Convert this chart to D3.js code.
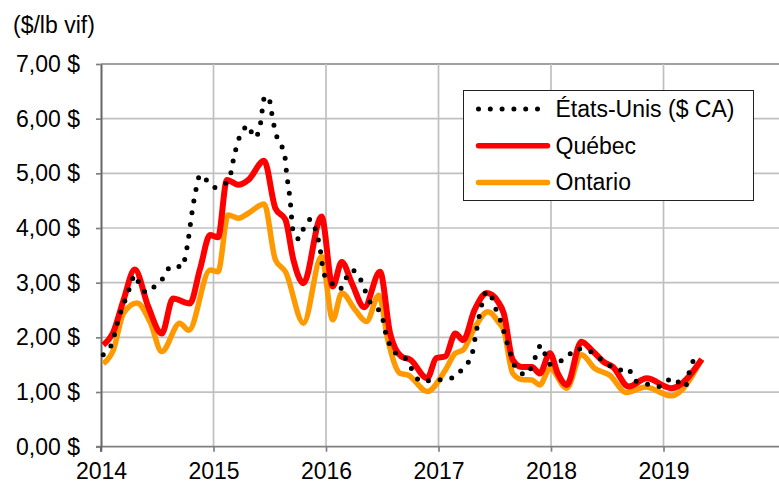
<!DOCTYPE html>
<html>
<head>
<meta charset="utf-8">
<script src="https://cdn.jsdelivr.net/npm/d3@7/dist/d3.min.js"></script>
<style>
  body { margin: 0; background: #fff; }
  svg text { font-family: "Liberation Sans", Arial, sans-serif; fill: #000; }
</style>
</head>
<body>
<div id="chart"></div>
<script>
// valeurs : [année décimale, $/lb vif]
const etatsUnis = [
  [2014.02, 1.68], [2014.04, 1.72], [2014.10, 1.90], [2014.15, 2.30], [2014.22, 2.71],
  [2014.26, 2.93], [2014.30, 3.14], [2014.35, 2.93], [2014.41, 2.82], [2014.48, 2.94],
  [2014.55, 3.08], [2014.60, 3.26], [2014.66, 3.32], [2014.72, 3.28], [2014.75, 3.48],
  [2014.78, 3.85], [2014.81, 4.30], [2014.85, 4.76], [2014.88, 4.97], [2014.93, 4.89],
  [2015.00, 4.74], [2015.09, 4.79], [2015.15, 4.97], [2015.17, 5.18], [2015.22, 5.60],
  [2015.26, 5.79], [2015.32, 5.87], [2015.35, 5.66], [2015.40, 5.74], [2015.42, 5.94],
  [2015.45, 6.37], [2015.49, 6.41], [2015.51, 6.19], [2015.55, 5.76], [2015.58, 5.58],
  [2015.63, 5.38], [2015.65, 5.00], [2015.68, 4.53], [2015.71, 3.91], [2015.76, 3.80],
  [2015.80, 3.99], [2015.86, 4.16], [2015.90, 4.01], [2015.95, 3.59], [2015.98, 3.17],
  [2016.04, 3.02], [2016.12, 2.87], [2016.17, 3.05], [2016.23, 3.23], [2016.30, 3.09],
  [2016.34, 2.90], [2016.38, 2.68], [2016.44, 2.56], [2016.50, 2.38], [2016.52, 2.17],
  [2016.55, 1.95], [2016.60, 1.74], [2016.69, 1.65], [2016.75, 1.47], [2016.79, 1.29],
  [2016.87, 1.19], [2016.94, 1.22], [2017.05, 1.23], [2017.16, 1.29], [2017.22, 1.46],
  [2017.29, 1.63], [2017.33, 2.04], [2017.37, 2.47], [2017.43, 2.84], [2017.49, 2.65],
  [2017.52, 2.45], [2017.56, 2.26], [2017.59, 2.04], [2017.64, 1.70], [2017.69, 1.43],
  [2017.78, 1.32], [2017.87, 1.68], [2017.91, 1.86], [2017.95, 1.68], [2017.99, 1.51],
  [2018.06, 1.55], [2018.15, 1.64], [2018.21, 1.79], [2018.31, 1.78], [2018.41, 1.65],
  [2018.51, 1.50], [2018.61, 1.40], [2018.69, 1.43], [2018.73, 1.23], [2018.80, 1.17],
  [2018.89, 1.13], [2018.97, 1.10], [2019.08, 1.26], [2019.19, 1.09], [2019.24, 1.45],
  [2019.30, 1.69]
];

const quebec = [
  [2014.02, 1.86], [2014.11, 2.10], [2014.20, 2.68], [2014.30, 3.24], [2014.42, 2.56],
  [2014.54, 2.07], [2014.64, 2.71], [2014.79, 2.62], [2014.88, 3.25], [2014.97, 3.87],
  [2015.04, 3.83], [2015.12, 4.88], [2015.22, 4.79], [2015.31, 4.88], [2015.45, 5.23],
  [2015.55, 4.36], [2015.64, 4.15], [2015.71, 3.42], [2015.80, 2.99], [2015.96, 4.21],
  [2016.06, 2.93], [2016.14, 3.38], [2016.23, 2.99], [2016.34, 2.55], [2016.48, 3.20],
  [2016.57, 2.07], [2016.67, 1.65], [2016.75, 1.59], [2016.90, 1.25], [2016.98, 1.62],
  [2017.06, 1.65], [2017.15, 2.07], [2017.22, 1.95], [2017.32, 2.50], [2017.43, 2.81],
  [2017.53, 2.65], [2017.58, 2.44], [2017.66, 1.59], [2017.74, 1.46], [2017.83, 1.46],
  [2017.90, 1.34], [2017.99, 1.71], [2018.06, 1.34], [2018.14, 1.13], [2018.27, 1.92],
  [2018.36, 1.77], [2018.47, 1.55], [2018.55, 1.46], [2018.69, 1.10], [2018.85, 1.25],
  [2019.07, 1.07], [2019.34, 1.60]
];

const ontario = [
  [2014.02, 1.52], [2014.11, 1.77], [2014.20, 2.44], [2014.32, 2.63], [2014.44, 2.26],
  [2014.54, 1.74], [2014.70, 2.26], [2014.78, 2.13], [2014.97, 3.23], [2015.04, 3.20],
  [2015.13, 4.24], [2015.22, 4.18], [2015.31, 4.27], [2015.45, 4.44], [2015.55, 3.42],
  [2015.64, 3.20], [2015.80, 2.26], [2015.96, 3.48], [2016.06, 2.32], [2016.14, 2.81],
  [2016.26, 2.50], [2016.36, 2.29], [2016.47, 2.77], [2016.55, 1.95], [2016.66, 1.34],
  [2016.73, 1.31], [2016.90, 1.01], [2017.06, 1.40], [2017.15, 1.71], [2017.22, 1.77],
  [2017.31, 2.13], [2017.44, 2.47], [2017.53, 2.29], [2017.58, 2.13], [2017.66, 1.34],
  [2017.74, 1.23], [2017.83, 1.22], [2017.90, 1.13], [2017.99, 1.43], [2018.14, 1.07],
  [2018.27, 1.68], [2018.39, 1.43], [2018.52, 1.31], [2018.67, 0.99], [2018.84, 1.09],
  [2019.07, 0.93], [2019.34, 1.60]
];

const yearTicks = [2014, 2015, 2016, 2017, 2018, 2019];
const yTicks = [0, 1, 2, 3, 4, 5, 6, 7];
const yTickLabels = ["0,00 $", "1,00 $", "2,00 $", "3,00 $", "4,00 $", "5,00 $", "6,00 $", "7,00 $"];
const seriesNames = ["États-Unis ($ CA)", "Québec", "Ontario"];
const unitLabel = "($/lb vif)";

var width = 779, height = 485;
var fontSize = 23;

var svg = d3.select("#chart").append("svg")
    .attr("width", width)
    .attr("height", height);

svg.append("rect").attr("width", width).attr("height", height).attr("fill", "#fff");

var x = d3.scaleLinear().domain([2014, 2020]).range([101, 776]);
var y = d3.scaleLinear().domain([0, 7]).range([446.7, 64]);

// grille horizontale
svg.append("g")
    .selectAll("line")
    .data(yTicks.filter(function(d){ return d > 0; }))
    .enter()
    .append("line")
    .attr("x1", x(2014)).attr("x2", width)
    .attr("y1", function(d){ return y(d); })
    .attr("y2", function(d){ return y(d); })
    .attr("stroke", function(d){ return d == 7 ? "#808080" : "#c0c0c0"; })
    .attr("stroke-width", 1.7);

// grille verticale
svg.append("g")
    .selectAll("line")
    .data(yearTicks.filter(function(d){ return d > 2014; }))
    .enter()
    .append("line")
    .attr("x1", function(d){ return x(d); })
    .attr("x2", function(d){ return x(d); })
    .attr("y1", y(7)).attr("y2", y(0))
    .attr("stroke", "#c0c0c0")
    .attr("stroke-width", 1.7);

// axe des x
var xAxis = d3.axisBottom(x)
    .tickValues(yearTicks)
    .tickFormat(d3.format("d"))
    .tickSize(5)
    .tickSizeOuter(0)
    .tickPadding(11);

var gx = svg.append("g")
    .attr("transform", "translate(0," + y(0) + ")")
    .call(xAxis);
gx.select(".domain").remove();
gx.selectAll(".tick line").attr("stroke", "#808080").attr("stroke-width", 1.7);
gx.selectAll(".tick text").attr("font-size", fontSize).attr("font-family", "Liberation Sans, Arial, sans-serif");
gx.append("line")
    .attr("x1", x(2014) - 5).attr("x2", width)
    .attr("stroke", "#808080").attr("stroke-width", 1.7);

// axe des y
var yAxis = d3.axisLeft(y)
    .tickValues(yTicks)
    .tickFormat(function(d, i){ return yTickLabels[i]; })
    .tickSize(5)
    .tickSizeOuter(0)
    .tickPadding(16);

var gy = svg.append("g")
    .attr("transform", "translate(" + x(2014) + ",0)")
    .call(yAxis);
gy.select(".domain").attr("stroke", "#666").attr("stroke-width", 2);
gy.selectAll(".tick line").attr("stroke", "#808080").attr("stroke-width", 1.7);
gy.selectAll(".tick text").attr("font-size", fontSize).attr("font-family", "Liberation Sans, Arial, sans-serif");
gy.append("line")
    .attr("y1", y(0)).attr("y2", y(0) + 5)
    .attr("stroke", "#666").attr("stroke-width", 2);

svg.append("text")
    .attr("x", 13).attr("y", 33)
    .attr("font-size", fontSize)
    .text(unitLabel);

// courbes
var line = d3.line()
    .x(function(d){ return x(d[0]); })
    .y(function(d){ return y(d[1]); })
    .curve(d3.curveMonotoneX);

svg.append("path").datum(ontario)
    .attr("d", line)
    .attr("fill", "none")
    .attr("stroke", "#FF9900")
    .attr("stroke-width", 5.5)
    .attr("stroke-linejoin", "round");

svg.append("path").datum(quebec)
    .attr("d", line)
    .attr("fill", "none")
    .attr("stroke", "#FF0000")
    .attr("stroke-width", 6)
    .attr("stroke-linejoin", "round");

svg.append("path").datum(etatsUnis)
    .attr("d", line)
    .attr("fill", "none")
    .attr("stroke", "#000")
    .attr("stroke-width", 5)
    .attr("stroke-linecap", "round")
    .attr("stroke-dasharray", "0 11.8");

// légende
var legend = svg.append("g").attr("transform", "translate(463.5,90.5)");
legend.append("rect")
    .attr("width", 290).attr("height", 110)
    .attr("fill", "#fff")
    .attr("stroke", "#222")
    .attr("stroke-width", 1);

var legendStyles = [
  { color: "#000", w: 5, dash: "0 11.8" },
  { color: "#FF0000", w: 5.5, dash: null },
  { color: "#FF9900", w: 5.5, dash: null }
];

seriesNames.forEach(function(name, i){
    var ly = 18.5 + i * 36.7;
    legend.append("line")
        .attr("x1", 15).attr("x2", 84)
        .attr("y1", ly).attr("y2", ly)
        .attr("stroke", legendStyles[i].color)
        .attr("stroke-width", legendStyles[i].w)
        .attr("stroke-linecap", "round")
        .attr("stroke-dasharray", legendStyles[i].dash);
    legend.append("text")
        .attr("x", 92).attr("y", ly)
        .attr("dy", "0.35em")
        .attr("font-size", fontSize)
        .text(name);
});
</script>
</body>
</html>
